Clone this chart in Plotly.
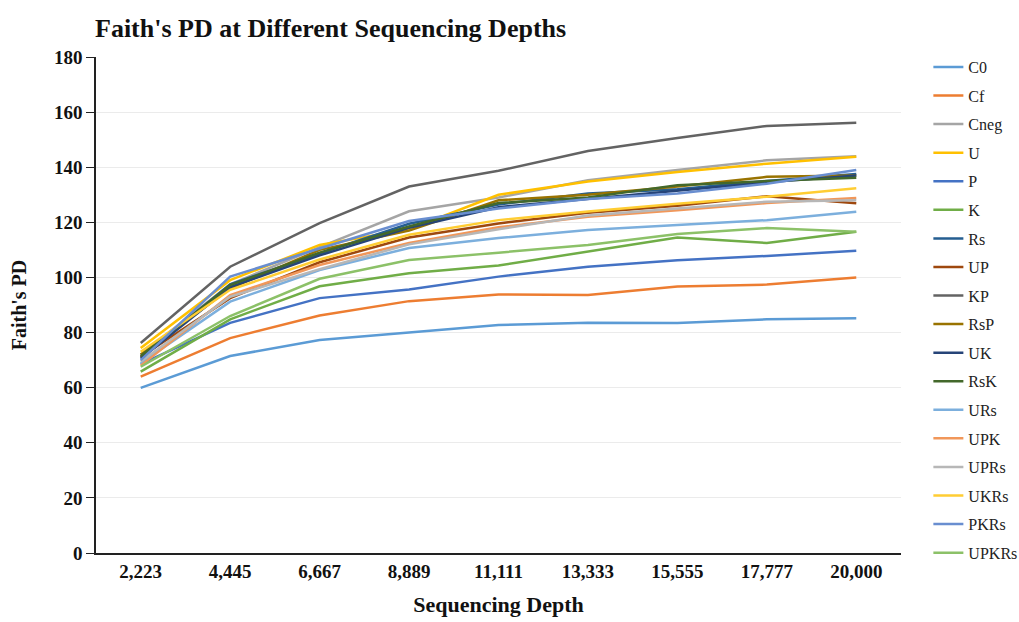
import plotly.graph_objects as go

# Sequencing depths (category axis)
depths = ["2,223", "4,445", "6,667", "8,889", "11,111", "13,333", "15,555", "17,777", "20,000"]

# Faith's PD per treatment at each depth
C0 = [59.9, 71.5, 77.3, 80.0, 82.7, 83.6, 83.5, 84.8, 85.2]
Cf = [64.0, 78.0, 86.2, 91.4, 93.8, 93.6, 96.7, 97.4, 100.0]
Cneg = [72.0, 97.5, 111.0, 124.0, 129.0, 135.3, 139.0, 142.5, 144.0]
U = [74.4, 99.0, 111.8, 117.5, 130.0, 134.8, 138.3, 141.3, 143.8]
P = [68.5, 83.5, 92.5, 95.6, 100.3, 103.9, 106.2, 107.8, 109.7]
K = [65.8, 84.8, 96.8, 101.5, 104.3, 109.5, 114.5, 112.5, 116.6]
Rs = [71.0, 97.5, 108.7, 119.5, 126.5, 130.5, 132.0, 135.0, 137.5]
UP = [71.2, 92.5, 105.5, 114.5, 119.6, 123.5, 126.0, 129.5, 126.9]
KP = [76.2, 103.9, 119.7, 133.0, 138.7, 145.9, 150.6, 155.0, 156.1]
RsP = [72.0, 96.0, 110.0, 117.0, 128.0, 130.0, 133.0, 136.5, 137.0]
UK = [70.5, 96.5, 108.0, 118.0, 125.5, 128.5, 131.5, 134.5, 137.0]
RsK = [71.5, 97.2, 109.0, 118.5, 127.0, 129.0, 133.5, 135.0, 136.2]
URs = [68.9, 91.2, 102.7, 110.7, 114.3, 117.2, 119.0, 120.8, 123.8]
UPK = [68.0, 93.6, 104.5, 112.5, 118.2, 122.0, 124.4, 127.0, 128.8]
UPRs = [69.5, 93.0, 103.0, 112.0, 117.5, 122.5, 125.0, 127.5, 128.0]
UKRs = [73.0, 95.5, 106.5, 115.5, 120.8, 123.9, 126.7, 129.3, 132.4]
PKRs = [70.0, 100.3, 110.5, 120.5, 125.0, 128.5, 130.5, 134.0, 139.0]
UPKRs = [67.6, 86.0, 99.5, 106.3, 109.0, 111.8, 115.8, 117.9, 116.6]

series_names = ["C0", "Cf", "Cneg", "U", "P", "K", "Rs", "UP", "KP",
                "RsP", "UK", "RsK", "URs", "UPK", "UPRs", "UKRs", "PKRs", "UPKRs"]
series_values = [C0, Cf, Cneg, U, P, K, Rs, UP, KP,
                 RsP, UK, RsK, URs, UPK, UPRs, UKRs, PKRs, UPKRs]
series_colors = ["#5B9BD5", "#ED7D31", "#A5A5A5", "#FFC000", "#4472C4", "#70AD47",
                 "#255E91", "#9E480E", "#636363", "#997300", "#264478", "#43682B",
                 "#7CAFDD", "#F1975A", "#B7B7B7", "#FFCD33", "#698ED0", "#8CC168"]

serif = "Liberation Serif, Times New Roman, serif"

fig = go.Figure()
for name, vals, col in zip(series_names, series_values, series_colors):
    fig.add_trace(go.Scatter(
        x=depths, y=vals, name=name, mode="lines",
        line=dict(color=col, width=2.5),
        legendgroup=name,
    ))

fig.update_layout(
    width=1019, height=622,
    margin=dict(l=96, r=118, t=57, b=69, autoexpand=False),
    paper_bgcolor="white", plot_bgcolor="white",
    title=dict(text="<b>Faith's PD at Different Sequencing Depths</b>",
               x=95 / 1019, xanchor="left", y=1 - 28 / 622, yanchor="middle",
               font=dict(family=serif, size=26, color="#111111")),
    font=dict(family=serif, color="#111111"),
    legend=dict(x=1.034, y=1.014, xanchor="left", yanchor="top",
                font=dict(family=serif, size=16, color="#222222"),
                tracegroupgap=4.77, bgcolor="rgba(0,0,0,0)", maxheight=600),
    showlegend=True,
)

fig.update_xaxes(
    type="category", range=[-0.5, 8.5],
    showline=True, linecolor="#222222", linewidth=1.5,
    ticks="", showgrid=False,
    tickfont=dict(family=serif, size=19, color="#111111", weight="bold"),
    title=dict(text="<b>Sequencing Depth</b>", font=dict(family=serif, size=22, color="#111111"),
               standoff=16),
)
fig.update_yaxes(
    range=[0, 180], dtick=20,
    showline=True, linecolor="#222222", linewidth=1.5,
    ticks="outside", ticklen=8, tickcolor="#222222", tickwidth=1.2,
    showgrid=True, gridcolor="#EBEBEB", gridwidth=1,
    zeroline=False,
    tickfont=dict(family=serif, size=19, color="#111111", weight="bold"),
    title=dict(text="<b>Faith's PD</b>", font=dict(family=serif, size=20, color="#111111"),
               standoff=22),
)

fig.write_html("out.html")
